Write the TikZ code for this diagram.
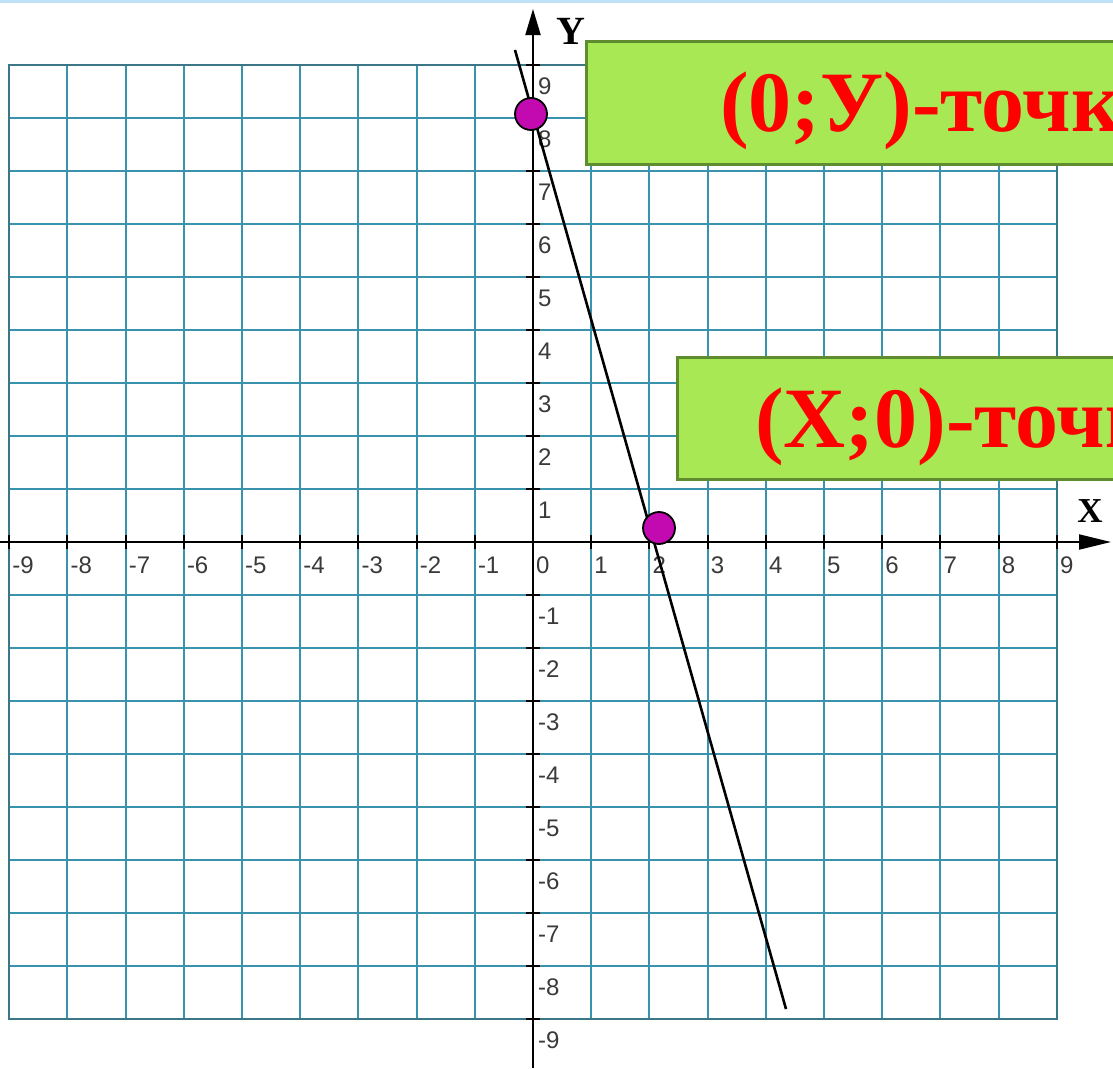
\documentclass[tikz,border=0pt]{standalone}
\usepackage{fontspec}
\setmainfont{Liberation Serif}
\newfontfamily\tickfont{Liberation Sans}
\usetikzlibrary{arrows.meta}
\definecolor{gridc}{HTML}{3A93AE}
\definecolor{gridb}{HTML}{3A7888}
\definecolor{boxfill}{HTML}{A8E854}
\definecolor{boxline}{HTML}{5E8C2E}
\definecolor{dotc}{HTML}{C20AB0}
\definecolor{topstrip}{HTML}{BFE2F6}
\definecolor{labc}{HTML}{3A3A3A}
\definecolor{txtred}{HTML}{FF0000}
\begin{document}
\begin{tikzpicture}[x=1pt,y=-1pt,
  gridline/.style={draw=gridc,line width=2pt},
  gridborder/.style={draw=gridb,line width=2.2pt},
  axisline/.style={draw=black,line width=2pt},
  tickmark/.style={draw=black,line width=2pt},
  ticklab/.style={font=\tickfont\fontsize{24}{26}\selectfont,text=labc,inner sep=0pt},
  axlab/.style={font=\bfseries\fontsize{40}{42}\selectfont,text=black,inner sep=0pt},
  graphline/.style={draw=black,line width=2.6pt},
  dotstyle/.style={circle,fill=dotc,draw=black,line width=1.8pt,minimum size=32pt,inner sep=0pt},
  greenbox/.style={rectangle,fill=boxfill,draw=boxline,line width=3pt,inner sep=0pt,anchor=north west},
  bigtext/.style={font=\bfseries\fontsize{86}{90}\selectfont,text=txtred,inner sep=0pt,anchor=base west}]
\path[use as bounding box, clip] (0,0) rectangle (1113,1068);
\fill[white] (0,0) rectangle (1113,1068);
\fill[topstrip] (0,0) rectangle (1113,3);
% grid
\foreach \i in {-8,...,8} \draw[gridline] ({533+58.2*\i},65) -- ({533+58.2*\i},1019);
\foreach \j in {-8,...,8} \draw[gridline] (9.2,{542-53*\j}) -- (1056.8,{542-53*\j});
\draw[gridborder] (9.2,65) rectangle (1056.8,1019);
% axes
\coordinate (xs) at (0,542);
\coordinate (xe) at (1111,542);
\coordinate (ys) at (533,1068);
\coordinate (ye) at (533,9);
\draw[axisline,-{Triangle[length=32pt,width=15pt]}] (xs) -- (xe);
\draw[axisline,-{Triangle[length=26pt,width=15pt]}] (ys) -- (ye);
% ticks
\foreach \i in {-9,...,-1,1,2,...,9} {
  \draw[tickmark] ({533+58.2*\i},535) -- ({533+58.2*\i},549);
  \draw[tickmark] (526,{542-53*\i}) -- (540,{542-53*\i});
}
% tick labels
\foreach \i in {-9,...,9} \node[ticklab,anchor=west] (xl\i) at ({533+58.2*\i+3},565) {\i};
\foreach \j in {-9,...,-1,1,2,...,9} \node[ticklab,anchor=west] (yl\j) at (538,{542-53*\j+21}) {\j};
% axis names
\node[axlab] (ylab) at (571,31) {Y};
\node[axlab,font=\bfseries\fontsize{35}{37}\selectfont] (xlab) at (1090,511) {X};
% graph line
\coordinate (la) at (515,50);
\coordinate (lb) at (786,1009);
\draw[graphline] (la) -- (lb);
% points
\node[dotstyle] (p1) at (531,114) {};
\node[dotstyle] (p2) at (659,528) {};
% boxes
\node[greenbox,minimum width=600pt,minimum height=123pt] (b1) at (585,40) {};
\node[bigtext] (t1) at (720,131) {(0;У)-точк};
\node[greenbox,minimum width=600pt,minimum height=122pt] (b2) at (676,356) {};
\node[bigtext] (t2) at (755,447) {(X;0)-точк};
\end{tikzpicture}
\end{document}
